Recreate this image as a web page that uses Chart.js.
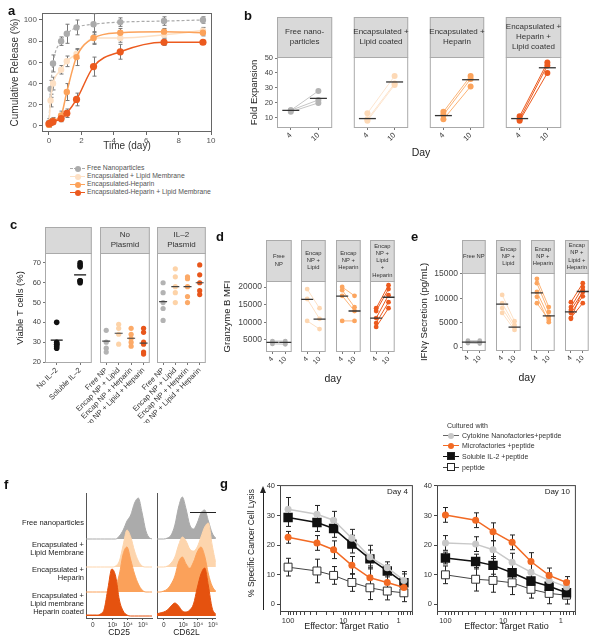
<!DOCTYPE html>
<html>
<head>
<meta charset="utf-8">
<title>Nanofactory figure</title>
<script src="https://cdn.jsdelivr.net/npm/chart.js@4.4.1/dist/chart.umd.min.js"></script>
<style>
  html, body { margin: 0; padding: 0; background: #fff; }
  #fig { position: relative; width: 600px; height: 639px; overflow: hidden;
         font-family: Arial, "Liberation Sans", sans-serif; color: #333; }
  #fig canvas { position: absolute; }
  .t { position: absolute; white-space: nowrap; line-height: 1; }
  .lbl { position: absolute; font-weight: bold; font-size: 13px; color: #111; line-height: 1; }
</style>
</head>
<body>
<div id="fig"></div>
<script>
// ---- a: cumulative release (%) over time (day)
const releaseDays = [0, 0.1, 0.25, 0.75, 1.1, 1.7, 2.75, 4.4, 7.1, 9.5];
const releaseFree = [3, 35, 59, 80, 87, 93, 96, 98, 99, 100];
const releaseFreeErr = [4, 8, 8, 4, 9, 7, 10, 4, 4, 3];
const releaseLipid = [2, 24, 40, 53, 61, 68, 83, 83, 86, 90];
const releaseLipidErr = [3, 6, 6, 4, 5, 4, 5, 4, 3, 3];
const releaseHeparin = [1, 3, 5, 10, 32, 65, 83, 88, 89, 88];
const releaseHeparinErr = [2, 2, 3, 4, 8, 8, 6, 4, 3, 3];
const releaseHepLipid = [2, 3, 4, 7, 12, 25, 56, 70, 79, 79];
const releaseHepLipidErr = [2, 2, 2, 3, 4, 6, 9, 7, 3, 2];
const releaseDayTicks = [0, 2, 4, 6, 8, 10];
const releasePctTicks = [0, 20, 40, 60, 80, 100];

// ---- b: fold expansion, day 4 vs day 10
const expansionDays = ['4', '10'];
const foldFreeDay4 = [15, 14, 15], foldFreeDay10 = [28, 20, 22], foldFreeMean = [15, 23];
const foldLipidDay4 = [13, 8, 9], foldLipidDay10 = [38, 32, 33], foldLipidMean = [9.5, 34];
const foldHeparinDay4 = [14, 12, 9], foldHeparinDay10 = [38, 36, 31], foldHeparinMean = [11.5, 35.5];
const foldHepLipidDay4 = [11, 9, 8], foldHepLipidDay10 = [47, 45, 40], foldHepLipidMean = [9.5, 43.5];
const foldTicks = [10, 20, 30, 40, 50];

// ---- c: viable T cells (%)
const viabCtrlLabels = ['No IL–2', 'Soluble IL–2'];
const viabNpLabels = ['Free NP', 'Encap NP + Lipid', 'Encap NP + Heparin', 'Encap NP + Lipid + Heparin'];
const viabNoIL2 = [40, 30, 29, 28, 27, 29];
const viabSolubleIL2 = [70, 69, 68, 61, 60, 61];
const viabCtrlMean = [31, 64];
const viabNoPlasmidFree = [36, 30, 27, 25];
const viabNoPlasmidLipid = [39, 37, 34, 29];
const viabNoPlasmidHeparin = [37, 34, 32, 30, 28];
const viabNoPlasmidHepLipid = [37, 35, 30, 29, 25, 24];
const viabNoPlasmidMean = [30.5, 34.5, 32, 29.5];
const viabPlasmidFree = [60, 55, 50, 47, 41];
const viabPlasmidLipid = [67, 63, 58, 55, 50];
const viabPlasmidHeparin = [63, 62, 58, 53, 50];
const viabPlasmidHepLipid = [69, 64, 60, 56, 54];
const viabPlasmidMean = [50.5, 58, 58, 60];
const viabTicks = [20, 30, 40, 50, 60, 70];

// ---- d: granzyme B MFI
const granzFreeDay4 = [4700, 4300, 3900], granzFreeDay10 = [4700, 4200, 3800], granzFreeMean = [4300, 4300];
const granzLipidDay4 = [19400, 16600, 10400], granzLipidDay10 = [14000, 11000, 8100], granzLipidMean = [16500, 10900];
const granzHeparinDay4 = [20000, 19100, 17500, 10400], granzHeparinDay10 = [17500, 14300, 13200, 10400], granzHeparinMean = [17400, 13200];
const granzHepLipidDay4 = [14000, 13200, 11200, 9800, 8700], granzHepLipidDay10 = [20500, 19400, 17700, 15700, 14000], granzHepLipidMean = [11200, 17100];
const granzTicks = [5000, 10000, 15000, 20000];

// ---- e: IFNγ secretion (pg/mL)
const ifnFreeDay4 = [1300, 1000, 800], ifnFreeDay10 = [1300, 1000, 700], ifnFreeMean = [1000, 1000];
const ifnLipidDay4 = [10700, 9000, 8000, 7000], ifnLipidDay10 = [5300, 4500, 4000, 3500], ifnLipidMean = [8800, 4100];
const ifnHeparinDay4 = [14000, 13100, 11300, 10300, 9000], ifnHeparinDay10 = [8200, 7200, 6200, 5100, 5600], ifnHeparinMean = [11100, 6400];
const ifnHepLipidDay4 = [9200, 8200, 7600, 7000, 6000, 5800], ifnHepLipidDay10 = [13100, 12300, 11300, 10400, 9000, 11700], ifnHepLipidMean = [7200, 11400];
const ifnTicks = [0, 5000, 10000, 15000];

// ---- f: flow histograms (counts on a display grid of the biexponential axis)
const fluorGrid = [-0.5, -0.25, 0, 0.25, 0.5, 0.75, 1, 1.25, 1.5, 1.75, 2, 2.25, 2.5, 2.75, 3, 3.25, 3.5, 3.75, 4];
const fluorTickPos = [0, 1.3, 2.3, 3.3];
const fluorTickLabels = ['0', '10³', '10⁴', '10⁵'];
const cd25Free     = [0, 0, 0, 0, 0, 0, 0, 0, 0, 3, 9, 18, 24, 36, 41, 26, 8, 1, 0];
const cd25Lipid    = [0, 0, 0, 0, 0, 0, 0, 0, 1, 6, 22, 37, 30, 16, 6, 1, 0, 0, 0];
const cd25Heparin  = [0, 0, 0, 0, 0, 0, 0, 1, 5, 18, 38, 45, 32, 18, 8, 2, 0, 0, 0];
const cd25HepLipid = [1, 1, 1, 1, 2, 7, 28, 47, 40, 16, 5, 1, 0, 0, 0, 0, 0, 0, 0];
const cd62Free     = [0, 0, 0, 1, 4, 14, 32, 42, 30, 14, 10, 16, 26, 29, 18, 6, 1, 0, 0];
const cd62Lipid    = [0, 0, 0, 1, 4, 10, 22, 30, 26, 18, 16, 20, 30, 40, 44, 22, 5, 0, 0];
const cd62Heparin  = [0, 0, 1, 3, 8, 16, 30, 35, 28, 24, 30, 40, 45, 36, 18, 6, 1, 0, 0];
const cd62HepLipid = [2, 3, 4, 6, 10, 13, 10, 5, 4, 6, 12, 28, 42, 48, 30, 8, 2, 0, 0];

// ---- g: % specific cancer cell lysis vs effector:target ratio
const effectorRatio = [100, 30, 15, 7, 3.3, 1.6, 0.8];
const lysisD4Nano = [32.1, 30.4, 28.4, 22.3, 15.9, 12.3, 8.0];
const lysisD4NanoErr = [4, 3, 3, 3, 4, 2, 3];
const lysisD4Micro = [22.6, 20.7, 18.4, 13.1, 8.9, 7.3, 5.6];
const lysisD4MicroErr = [2, 2.5, 3, 3, 4, 3, 2];
const lysisD4Sol = [29.3, 27.6, 25.6, 20.3, 15.3, 11.2, 7.2];
const lysisD4SolErr = [3, 3, 3, 3, 3, 2, 3];
const lysisD4Pep = [12.5, 11.2, 9.7, 7.3, 5.5, 4.4, 3.8];
const lysisD4PepErr = [3, 4, 3, 3, 4, 3, 3];
const lysisD10Nano = [20.7, 20.3, 18.4, 14.2, 10.8, 8.0, 5.8];
const lysisD10NanoErr = [2.5, 2.5, 3, 3, 3, 2.5, 2];
const lysisD10Micro = [30.2, 28.4, 24.5, 20.9, 14.4, 9.7, 7.3];
const lysisD10MicroErr = [2.5, 2.5, 3, 2.5, 3, 2.5, 2];
const lysisD10Sol = [15.6, 14.4, 13.1, 10.6, 7.8, 6.0, 3.8];
const lysisD10SolErr = [2, 2.5, 3, 3, 3, 3, 2];
const lysisD10Pep = [9.9, 8.4, 8.0, 7.2, 5.0, 3.6, 3.0];
const lysisD10PepErr = [3, 4, 4, 4, 3, 3.5, 3];
const lysisTicks = [0, 10, 20, 30, 40];

// colours
const GRAY = '#ababab', PEACH = '#fdd5ad', ORANGE = '#fca25a', DARK = '#ec5a1e';

const FONT = 'Arial, "Liberation Sans", Helvetica, sans-serif';
Chart.defaults.font.family = FONT;
Chart.defaults.font.size = 7;
Chart.defaults.color = '#444';
Chart.defaults.plugins.legend.display = false;
Chart.defaults.plugins.tooltip.enabled = false;

// box round the plot area
const framePlugin = {
  id: 'frame',
  beforeDatasetsDraw(chart, args, opts) {
    if (!opts.color) return;
    const a = chart.chartArea, ctx = chart.ctx;
    ctx.save();
    ctx.strokeStyle = opts.color;
    ctx.lineWidth = 1;
    ctx.strokeRect(a.left + 0.5, a.top + 0.5, a.right - a.left - 1, a.bottom - a.top - 1);
    ctx.restore();
  }
};

// grey facet strip above the plot
const stripPlugin = {
  id: 'strip',
  beforeDraw(chart, args, opts) {
    if (!opts.h) return;
    const a = chart.chartArea, ctx = chart.ctx;
    const y0 = a.top - opts.h;
    ctx.save();
    ctx.fillStyle = '#d9d9d9';
    ctx.fillRect(a.left, y0, a.right - a.left, opts.h);
    ctx.strokeStyle = '#aaa';
    ctx.strokeRect(a.left + 0.5, y0 + 0.5, a.right - a.left - 1, opts.h);
    const lines = (opts.text || '').split('\n');
    ctx.fillStyle = '#333';
    ctx.font = opts.size + 'px ' + FONT;
    ctx.textAlign = 'center';
    ctx.textBaseline = 'middle';
    const lh = opts.size * 1.25, cy = y0 + opts.h / 2;
    lines.forEach((s, i) => ctx.fillText(s, (a.left + a.right) / 2, cy + (i - (lines.length - 1) / 2) * lh));
    ctx.restore();
  }
};

// vertical error bars taken from dataset.err
const errPlugin = {
  id: 'errbars',
  beforeDatasetsDraw(chart) {
    const ctx = chart.ctx;
    chart.data.datasets.forEach((ds, i) => {
      if (!ds.err) return;
      const meta = chart.getDatasetMeta(i);
      const ys = chart.scales[meta.yAxisID];
      ctx.save();
      ctx.strokeStyle = ds.errColor || '#444';
      ctx.lineWidth = 1;
      meta.data.forEach((pt, j) => {
        const v = ds.data[j].y, e = ds.err[j];
        const y1 = ys.getPixelForValue(v + e), y2 = ys.getPixelForValue(v - e);
        const x = Math.round(pt.x) + 0.5, cap = ds.errCap || 2.5;
        ctx.beginPath();
        ctx.moveTo(x, y1); ctx.lineTo(x, y2);
        ctx.moveTo(x - cap, y1); ctx.lineTo(x + cap, y1);
        ctx.moveTo(x - cap, y2); ctx.lineTo(x + cap, y2);
        ctx.stroke();
      });
      ctx.restore();
    });
  }
};
Chart.register(framePlugin, stripPlugin, errPlugin);

const fig = document.getElementById('fig');

// plot = [x1, y1, x2, y2] of the chart area on the page; m = margins round it
function makeChart(plot, m, config) {
  const w = plot[2] - plot[0] + m.l + m.r;
  const h = plot[3] - plot[1] + m.t + m.b;
  const c = document.createElement('canvas');
  c.width = w; c.height = h;
  c.style.left = (plot[0] - m.l) + 'px';
  c.style.top = (plot[1] - m.t) + 'px';
  c.style.width = w + 'px';
  c.style.height = h + 'px';
  fig.appendChild(c);
  const o = config.options;
  o.responsive = false;
  o.animation = false;
  o.layout = {padding: {left: m.l - (m.yw || 0), top: m.t, right: m.r, bottom: 0}};
  o.scales.x.afterFit = s => { s.height = m.b; };
  if (m.yw !== undefined) o.scales.y.afterFit = s => { s.width = m.yw; };
  return new Chart(c, config);
}

function setTicks(list) {
  return s => { s.ticks = list.map(v => ({value: v})); };
}

function txt(s, x, y, css) {
  const d = document.createElement('div');
  d.className = 't';
  d.innerHTML = s;
  d.style.cssText += 'left:' + x + 'px;top:' + y + 'px;' + (css || '');
  fig.appendChild(d);
  return d;
}

// ================= a =================
function releaseSet(vals, errs, color, extra) {
  return Object.assign({
    data: releaseDays.map((d, i) => ({x: d, y: vals[i]})),
    err: errs, errColor: '#777', errCap: 2,
    borderColor: color, backgroundColor: color,
    pointBackgroundColor: color, pointBorderColor: color, pointBorderWidth: 0,
    pointRadius: 3.2, borderWidth: 1.5, tension: 0.4, cubicInterpolationMode: 'monotone'
  }, extra || {});
}

makeChart([42, 13, 212, 132], {l: 42, t: 13, r: 8, b: 23, yw: 42}, {
  type: 'line',
  data: {datasets: [
    releaseSet(releaseHepLipid, releaseHepLipidErr, DARK, {pointRadius: 3.6}),
    releaseSet(releaseHeparin, releaseHeparinErr, ORANGE),
    releaseSet(releaseLipid, releaseLipidErr, '#fde0c4'),
    releaseSet(releaseFree, releaseFreeErr, GRAY, {borderDash: [3, 2], borderWidth: 1.2})
  ]},
  options: {
    scales: {
      x: {type: 'linear', min: -0.43, max: 10.06, afterBuildTicks: setTicks(releaseDayTicks),
          grid: {drawOnChartArea: false, tickLength: 3, color: '#666'}, border: {display: false},
          ticks: {font: {size: 8}, color: '#555', padding: 1},
          title: {display: true, text: 'Time (day)', font: {size: 10}, color: '#333', padding: {top: 0, bottom: 3}}},
      y: {min: -5.7, max: 106.6, afterBuildTicks: setTicks(releasePctTicks),
          grid: {drawOnChartArea: false, tickLength: 3, color: '#666'}, border: {display: false},
          ticks: {font: {size: 8}, color: '#555', padding: 2},
          title: {display: true, text: 'Cumulative Release (%)', font: {size: 10}, color: '#333', padding: {top: 9, bottom: 0}}}
    },
    plugins: {frame: {color: '#666'}}
  }
});

const aLegend = [
  ['Free Nanoparticles', GRAY, 'dashed'],
  ['Encapsulated + Lipid Membrane', '#fde0c4', 'solid'],
  ['Encapsulated-Heparin', ORANGE, 'solid'],
  ['Encapsulated-Heparin + Lipid Membrane', DARK, 'solid']
];
aLegend.forEach((it, i) => {
  const y = 168 + i * 8;
  txt('', 70, y, 'width:15px;border-top:1.5px ' + it[2] + ' ' + it[1] + ';');
  txt('', 74.5, y - 2.5, 'width:6px;height:6px;border-radius:50%;background:' + it[1] + ';');
  txt(it[0], 87, y - 3.5, 'font-size:6.8px;color:#555;');
});

// ================= shared facet helpers =================
function facet(plot, m, strip, labels, datasets, y, xTicks) {
  const yShown = m.yw !== undefined;
  const yScale = {
    min: y.min, max: y.max, display: yShown, afterBuildTicks: setTicks(y.ticks),
    grid: {drawOnChartArea: false, tickLength: 2, color: '#777'}, border: {display: false},
    ticks: {color: '#444', font: {size: y.size}, padding: 2, callback: v => String(v)}
  };
  if (yShown && y.title) {
    yScale.title = {display: true, text: y.title, color: '#222', font: {size: 9.5}, padding: {top: y.titlePad, bottom: 0}};
  }
  return makeChart(plot, m, {
    type: 'line',
    data: {labels: labels, datasets: datasets},
    options: {
      scales: {
        x: {type: 'category', offset: true,
            grid: {offset: false, drawOnChartArea: false, tickLength: 2, color: '#777'}, border: {display: false},
            ticks: Object.assign({color: '#333', font: {size: 7}, padding: 1, autoSkip: false, maxRotation: 45, minRotation: 45}, xTicks || {})},
        y: yScale
      },
      plugins: {frame: {color: '#aaa'}, strip: strip}
    }
  });
}

function pairSets(d4, d10, mean, pt, ln, r, barR) {
  const sets = [{data: mean, showLine: false, pointStyle: 'line', pointRadius: barR,
                 pointBorderColor: '#333', pointBorderWidth: 1.3, borderColor: '#333'}];
  d4.forEach((v, i) => sets.push({
    data: [v, d10[i]], borderColor: ln, borderWidth: 1,
    pointRadius: r, pointBackgroundColor: pt, pointBorderColor: pt, pointBorderWidth: 0
  }));
  return sets;
}

// ================= b =================
const bFacets = [
  {x: [277, 338], strip: 'Free nano-\nparticles', d4: foldFreeDay4, d10: foldFreeDay10, mean: foldFreeMean, pt: '#b3b3b3', ln: '#c6c6c6'},
  {x: [352, 414], strip: 'Encapsulated +\nLipid coated', d4: foldLipidDay4, d10: foldLipidDay10, mean: foldLipidMean, pt: '#fdd9b6', ln: '#fde5cf'},
  {x: [428, 490], strip: 'Encapsulated +\nHeparin', d4: foldHeparinDay4, d10: foldHeparinDay10, mean: foldHeparinMean, pt: '#fba35c', ln: '#fbb375'},
  {x: [504, 567], strip: 'Encapsulated +\nHeparin +\nLipid coated', d4: foldHepLipidDay4, d10: foldHepLipidDay10, mean: foldHepLipidMean, pt: DARK, ln: DARK}
];
bFacets.forEach((f, i) => {
  const m = i === 0 ? {l: 35, t: 42, r: 4, b: 22, yw: 35} : {l: 8, t: 42, r: 4, b: 22};
  facet([f.x[0], 57, f.x[1], 128], m, {text: f.strip, h: 40, size: 8}, expansionDays,
        pairSets(f.d4, f.d10, f.mean, f.pt, f.ln, 3, 8.5),
        {min: 3.2, max: 50.7, ticks: foldTicks, size: 7.5, title: 'Fold Expansion', titlePad: 7},
        {font: {size: 7.5}});
});
txt('Day', 421, 152, 'font-size:10.5px;color:#222;transform:translate(-50%,-50%);');

// ================= c =================
function groupSets(labels, groups, colors, means, barColor, barR, r) {
  const sets = [{data: labels.map((l, i) => ({x: l, y: means[i]})), showLine: false, pointStyle: 'line',
                 pointRadius: barR, pointBorderColor: barColor, pointBorderWidth: 1.2}];
  groups.forEach((g, i) => sets.push({
    data: g.map(v => ({x: labels[i], y: v})), showLine: false,
    pointRadius: r, pointBackgroundColor: colors[i], pointBorderWidth: 0
  }));
  return sets;
}
const cY = {min: 19.5, max: 75, ticks: viabTicks, size: 7.5, title: 'Viable T cells (%)', titlePad: 15};
const npColors = ['#b3b3b3', '#fdd3a8', '#fcaa68', '#e8561b'];
facet([45, 253, 95, 363], {l: 45, t: 28, r: 4, b: 60, yw: 45}, {text: '', h: 26, size: 8}, viabCtrlLabels,
      groupSets(viabCtrlLabels, [viabNoIL2, viabSolubleIL2], ['#111', '#111'], viabCtrlMean, '#111', 6, 2.8), cY,
      {font: {size: 7.5}});
facet([100, 253, 151, 363], {l: 30, t: 28, r: 4, b: 60}, {text: 'No\nPlasmid', h: 26, size: 8}, viabNpLabels,
      groupSets(viabNpLabels, [viabNoPlasmidFree, viabNoPlasmidLipid, viabNoPlasmidHeparin, viabNoPlasmidHepLipid],
                npColors, viabNoPlasmidMean, '#444', 4, 2.6), cY, {font: {size: 7.5}});
facet([157, 253, 207, 363], {l: 30, t: 28, r: 4, b: 60}, {text: 'IL–2\nPlasmid', h: 26, size: 8}, viabNpLabels,
      groupSets(viabNpLabels, [viabPlasmidFree, viabPlasmidLipid, viabPlasmidHeparin, viabPlasmidHepLipid],
                npColors, viabPlasmidMean, '#444', 4, 2.6), cY, {font: {size: 7.5}});

// ================= d =================
const dFacets = [
  {x: [266, 296], strip: 'Free\nNP', d4: granzFreeDay4, d10: granzFreeDay10, mean: granzFreeMean, pt: '#b3b3b3', ln: '#c6c6c6'},
  {x: [301, 330], strip: 'Encap\nNP +\nLipid', d4: granzLipidDay4, d10: granzLipidDay10, mean: granzLipidMean, pt: '#fdd6b0', ln: '#fde0c4'},
  {x: [336, 365], strip: 'Encap\nNP +\nHeparin', d4: granzHeparinDay4, d10: granzHeparinDay10, mean: granzHeparinMean, pt: '#fca55f', ln: '#fcb478'},
  {x: [370, 399], strip: 'Encap\nNP +\nLipid\n+\nHeparin', d4: granzHepLipidDay4, d10: granzHepLipidDay10, mean: granzHepLipidMean, pt: DARK, ln: DARK}
];
dFacets.forEach((f, i) => {
  const m = i === 0 ? {l: 50, t: 43, r: 3, b: 20, yw: 50} : {l: 8, t: 43, r: 3, b: 20};
  facet([f.x[0], 281, f.x[1], 352], m, {text: f.strip, h: 41, size: 5.8}, expansionDays,
        pairSets(f.d4, f.d10, f.mean, f.pt, f.ln, 2.4, 6),
        {min: 1600, max: 21700, ticks: granzTicks, size: 8.5, title: 'Granzyme B MFI', titlePad: 6});
});
txt('day', 333, 378, 'font-size:10.5px;color:#222;transform:translate(-50%,-50%);');

// ================= e =================
const eFacets = [
  {x: [462, 490], strip: 'Free NP', d4: ifnFreeDay4, d10: ifnFreeDay10, mean: ifnFreeMean, pt: '#b3b3b3', ln: '#c6c6c6'},
  {x: [496, 525], strip: 'Encap\nNP +\nLipid', d4: ifnLipidDay4, d10: ifnLipidDay10, mean: ifnLipidMean, pt: '#fdd6b0', ln: '#fde0c4'},
  {x: [531, 559], strip: 'Encap\nNP +\nHeparin', d4: ifnHeparinDay4, d10: ifnHeparinDay10, mean: ifnHeparinMean, pt: '#fca55f', ln: '#fcb478'},
  {x: [565, 593], strip: 'Encap\nNP +\nLipid +\nHeparin', d4: ifnHepLipidDay4, d10: ifnHepLipidDay10, mean: ifnHepLipidMean, pt: DARK, ln: DARK}
];
eFacets.forEach((f, i) => {
  const m = i === 0 ? {l: 50, t: 35, r: 3, b: 20, yw: 50} : {l: 8, t: 35, r: 3, b: 20};
  facet([f.x[0], 273, f.x[1], 351], m, {text: f.strip, h: 33, size: 5.8}, expansionDays,
        pairSets(f.d4, f.d10, f.mean, f.pt, f.ln, 2.4, 6),
        {min: -820, max: 15200, ticks: ifnTicks, size: 8.5, title: 'IFNγ Secretion (pg/mL)', titlePad: 7});
});
txt('day', 527, 377, 'font-size:10.5px;color:#222;transform:translate(-50%,-50%);');

// ================= f =================
const fRowBase = [79, 51, 26, 2];
const fRowColors = [GRAY, '#fdd5ad', '#fba15a', '#e5520f'];
function flowChart(plot, xMax, rows, title) {
  makeChart(plot, {l: 5, t: 2, r: 3, b: 20, yw: 0}, {
    type: 'line',
    data: {datasets: rows.map((vals, k) => ({
      data: fluorGrid.map((x, i) => ({x: x, y: fRowBase[k] + vals[i]})),
      fill: {value: fRowBase[k]}, backgroundColor: fRowColors[k], borderColor: fRowColors[k],
      borderWidth: 1, pointRadius: 0, tension: 0.4, cubicInterpolationMode: 'monotone', order: 3 - k
    }))},
    options: {
      scales: {
        x: {type: 'linear', min: -0.45, max: xMax, afterBuildTicks: setTicks(fluorTickPos),
            grid: {drawOnChartArea: false, tickLength: 2, color: '#555'}, border: {display: true, color: '#555'},
            ticks: {font: {size: 6.5}, color: '#333', padding: 1, callback: v => fluorTickLabels[fluorTickPos.indexOf(v)]},
            title: {display: true, text: title, font: {size: 8.5}, color: '#222', padding: {top: 0, bottom: 0}}},
        y: {min: 0, max: 125, ticks: {display: false}, grid: {display: false, drawTicks: false},
            border: {display: true, color: '#555'}}
      },
      plugins: {}
    }
  });
}
flowChart([86, 493, 152, 618], 3.9, [cd25Free, cd25Lipid, cd25Heparin, cd25HepLipid], 'CD25');
flowChart([157, 493, 216, 618], 3.5, [cd62Free, cd62Lipid, cd62Heparin, cd62HepLipid], 'CD62L');
txt('', 190, 512, 'width:26px;border-top:1.5px solid #222;');
const fRowLabels = [
  ['Free nanoparticles', 523],
  ['Encapsulated +<br>Lipid Membrane', 549],
  ['Encapsulated +<br>Heparin', 573.5],
  ['Encapsulated +<br>Lipid membrane<br>Heparin coated', 603.5]
];
fRowLabels.forEach(r => {
  const d = txt(r[0], 0, r[1], 'font-size:7.5px;line-height:8.3px;color:#222;text-align:right;transform:translateY(-50%);');
  d.style.left = '';
  d.style.right = (600 - 84) + 'px';
});

// ================= g =================
function lysisSet(vals, errs, style) {
  return Object.assign({
    data: effectorRatio.map((x, i) => ({x: x, y: vals[i]})),
    err: errs, errColor: '#222', errCap: 2.5, tension: 0
  }, style);
}
const nanoStyle = {borderColor: '#c8c8c8', backgroundColor: '#c8c8c8', pointBackgroundColor: '#c8c8c8', pointBorderWidth: 0, pointRadius: 3.5, borderWidth: 1.5};
const microStyle = {borderColor: '#f26a24', backgroundColor: '#f26a24', pointBackgroundColor: '#f26a24', pointBorderWidth: 0, pointRadius: 3.5, borderWidth: 1.5};
const solStyle = {borderColor: '#111', backgroundColor: '#111', pointBackgroundColor: '#111', pointBorderColor: '#111', pointStyle: 'rect', pointRadius: 5.6, borderWidth: 1.5};
const pepStyle = {borderColor: '#444', pointBackgroundColor: '#fff', pointBorderColor: '#333', pointBorderWidth: 1, pointStyle: 'rect', pointRadius: 5.6, borderWidth: 1};

function lysisChart(plot, m, sets) {
  makeChart(plot, m, {
    type: 'line',
    data: {datasets: sets},
    options: {
      scales: {
        x: {type: 'logarithmic', reverse: true, min: 0.55, max: 140,
            grid: {drawOnChartArea: false, tickLength: 3, color: '#444'}, border: {display: false},
            ticks: {autoSkip: false, maxRotation: 0, font: {size: 7.5}, color: '#333', padding: 1,
                    callback: v => { const l = Math.log10(v); return Math.abs(l - Math.round(l)) < 1e-6 ? String(Math.round(v)) : ''; }},
            title: {display: true, text: 'Effector: Target Ratio', font: {size: 9}, color: '#222', padding: {top: 0, bottom: 2.5}}},
        y: {min: -2.7, max: 40.3, afterBuildTicks: setTicks(lysisTicks),
            grid: {drawOnChartArea: false, tickLength: 3, color: '#444'}, border: {display: false},
            ticks: {font: {size: 7.5}, color: '#333', padding: 2}}
      },
      plugins: {frame: {color: '#444'}}
    }
  });
}
lysisChart([280, 484, 416, 612], {l: 20, t: 6, r: 4, b: 22, yw: 20}, [
  lysisSet(lysisD4Nano, lysisD4NanoErr, nanoStyle),
  lysisSet(lysisD4Micro, lysisD4MicroErr, microStyle),
  lysisSet(lysisD4Sol, lysisD4SolErr, solStyle),
  lysisSet(lysisD4Pep, lysisD4PepErr, pepStyle)
]);
lysisChart([437, 484, 577, 612], {l: 20, t: 6, r: 6, b: 22, yw: 20}, [
  lysisSet(lysisD10Micro, lysisD10MicroErr, microStyle),
  lysisSet(lysisD10Nano, lysisD10NanoErr, nanoStyle),
  lysisSet(lysisD10Sol, lysisD10SolErr, solStyle),
  lysisSet(lysisD10Pep, lysisD10PepErr, pepStyle)
]);
txt('Day 4', 408, 488, 'font-size:8px;color:#222;transform:translateX(-100%);');
txt('Day 10', 570, 488, 'font-size:8px;color:#222;transform:translateX(-100%);');
txt('', 262.5, 492, 'height:118px;border-left:1.2px solid #222;');
txt('', 260, 486, 'width:0;height:0;border-left:3px solid transparent;border-right:3px solid transparent;border-bottom:7px solid #222;');
txt('% Specific Cancer Cell Lysis', 251, 543, 'font-size:8.5px;color:#222;transform:translate(-50%,-50%) rotate(-90deg);');

// legend g
txt('Cultured with', 447, 422, 'font-size:7px;color:#333;');
const gLegend = [
  ['Cytokine Nanofactories+peptide', '#666', 'circle', '#c8c8c8', 435],
  ['Microfactories +peptide', '#f26a24', 'circle', '#f26a24', 445],
  ['Soluble IL-2 +peptide', '#111', 'square', '#111', 456],
  ['peptide', '#444', 'square', '#fff', 467]
];
gLegend.forEach(it => {
  const y = it[4];
  txt('', 443, y, 'width:16px;border-top:1.5px solid ' + it[1] + ';');
  if (it[2] === 'circle') {
    txt('', 448, y - 2.5, 'width:6px;height:6px;border-radius:50%;background:' + it[3] + ';');
  } else {
    txt('', 446.5, y - 4, 'width:8px;height:8px;box-sizing:border-box;border:1px solid #222;background:' + it[3] + ';');
  }
  txt(it[0], 462, y - 3.5, 'font-size:7px;color:#333;');
});

// panel letters
[['a', 8, 4], ['b', 244, 9], ['c', 10, 218], ['d', 216, 230], ['e', 411, 230], ['f', 4, 478], ['g', 220, 477]]
  .forEach(p => { const d = txt(p[0], p[1], p[2]); d.className = 'lbl'; });
</script>
</body>
</html>
